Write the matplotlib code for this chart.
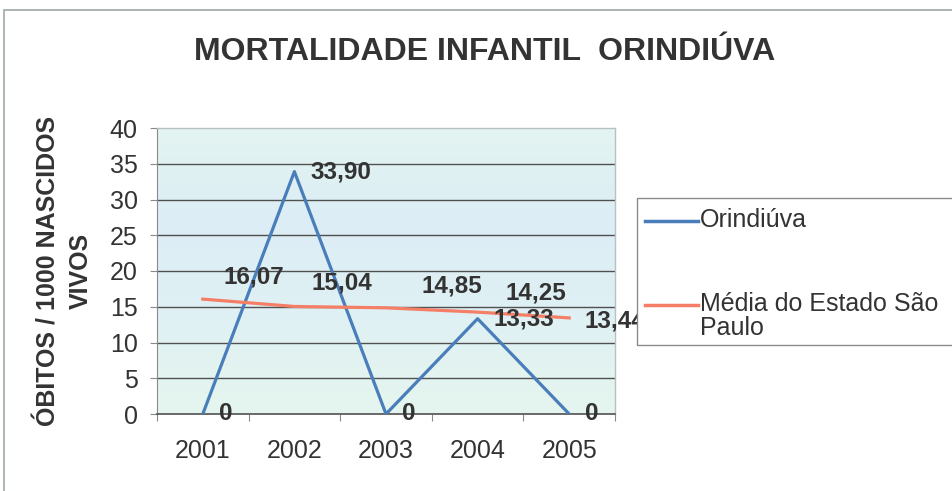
import numpy as np
import matplotlib
matplotlib.use("Agg")
from matplotlib import pyplot as plt
from matplotlib.patches import Rectangle
from matplotlib.lines import Line2D
from matplotlib.colors import LinearSegmentedColormap

plt.rcParams['font.family'] = ['Liberation Sans', 'DejaVu Sans']

years = ['2001', '2002', '2003', '2004', '2005']
orindiuva = [0, 33.90, 0, 13.33, 0]
media_sp = [16.07, 15.04, 14.85, 14.25, 13.44]

title = 'MORTALIDADE INFANTIL  ORINDIÚVA'
y_label = 'ÓBITOS / 1000 NASCIDOS\nVIVOS'
series_names = ['Orindiúva', 'Média do Estado São\nPaulo']

blue = '#4a7ebb'
orange = '#f47f66'
text_col = '#333333'
W, H = 953, 491


def fmt(v):
    if v == 0:
        return '0'
    return f'{v:.2f}'.replace('.', ',')


def px(x, y):
    # pixel position (from top-left) -> figure fraction
    return x / W, 1 - y / H


fig = plt.figure(figsize=(W / 100, H / 100), dpi=100)
ax = fig.add_axes([157 / W, 1 - 414 / H, 458 / W, 286 / H])

# outer chart border (top and left visible)
fig.patches.append(Rectangle(px(4, 600), 1.2, (600 - 10) / H,
                             transform=fig.transFigure, fill=False,
                             edgecolor='#a0a8a8', lw=1.2))

# plot area gradient
grad = np.linspace(0, 1, 256).reshape(-1, 1)
cmap = LinearSegmentedColormap.from_list('bg', ['#e3f4f1', '#dcedf6', '#e0f1f4', '#e5f5ee'])
ax.imshow(grad, extent=[0, 1, 0, 1], transform=ax.transAxes, cmap=cmap,
          aspect='auto', zorder=0)

x = np.arange(len(years))
ax.set_xlim(-0.5, len(years) - 0.5)
ax.set_ylim(0, 40)

for yv in range(5, 40, 5):
    ax.axhline(yv, color='#505050', lw=1.0, zorder=1)

ax.plot(x, orindiuva, color=blue, lw=2.3, zorder=3)
ax.plot(x, media_sp, color=orange, lw=2.3, zorder=3)

lab_font = dict(fontsize=17.5, fontweight='bold', color=text_col)
for xi, v in zip(x, orindiuva):
    ax.annotate(fmt(v), (xi, v), xytext=(16, 0), textcoords='offset pixels',
                ha='left', va='center', clip_on=False, zorder=4, **lab_font)

orange_offsets = [(21, 22), (17, 23), (36, 22), (28, 19), (15, -3)]
for xi, v, off in zip(x, media_sp, orange_offsets):
    ax.annotate(fmt(v), (xi, v), xytext=off, textcoords='offset pixels',
                ha='left', va='center', clip_on=False, zorder=4, **lab_font)

# axes styling
for s in ['top', 'right']:
    ax.spines[s].set_color('#b8c0c0')
    ax.spines[s].set_linewidth(1.0)
ax.spines['left'].set_color('#8a8a8a')
ax.spines['bottom'].set_color('#505050')
ax.spines['bottom'].set_linewidth(1.2)

ax.set_yticks(range(0, 45, 5))
ax.tick_params(axis='y', length=5, color='#8a8a8a', labelsize=18,
               labelcolor=text_col, pad=9)
ax.set_xticks(np.arange(-0.5, len(years), 1.0))
ax.set_xticklabels([])
ax.tick_params(axis='x', which='major', length=5, color='#8a8a8a')
ax.set_xticks(x, minor=True)
ax.set_xticklabels(years, minor=True)
ax.tick_params(axis='x', which='minor', length=0, labelsize=18,
               labelcolor=text_col, pad=18)

fig.text(*px(485, 52), title, ha='center', va='center',
         fontsize=23, fontweight='bold', color=text_col)
fig.text(*px(65, 271), y_label, ha='center', va='center',
         rotation=90, fontsize=18, fontweight='bold', color=text_col,
         linespacing=1.45)

# legend box, partly cut off at the right edge as in the original
fig.patches.append(Rectangle(px(637, 345), 0.5, (345 - 198) / H,
                             transform=fig.transFigure, facecolor='white',
                             edgecolor='#8a8a8a', lw=1.0, zorder=5))
for col, name, yy in zip([blue, orange], series_names, [221, 305]):
    (x0, y0), (x1, _) = px(645, yy), px(698, yy)
    fig.add_artist(Line2D([x0, x1], [y0, y0], transform=fig.transFigure,
                          color=col, lw=2.5, zorder=6))
    fig.text(*px(700, yy - 13), name, ha='left', va='top', fontsize=18,
             color=text_col, linespacing=1.0, zorder=6)

fig.savefig('out.png', dpi=100)
